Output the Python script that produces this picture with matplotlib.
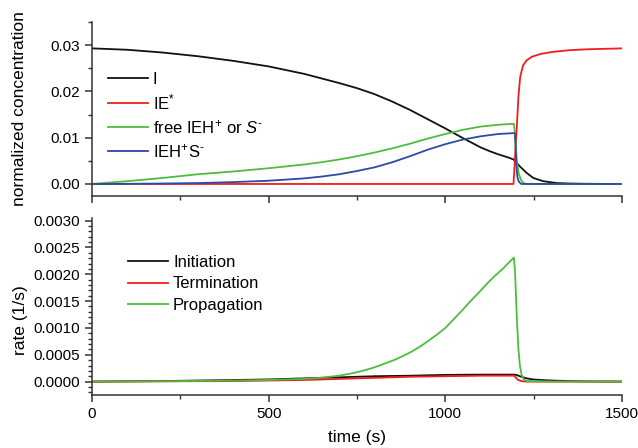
import matplotlib
matplotlib.use("Agg")
import matplotlib.pyplot as plt
from matplotlib.ticker import MultipleLocator

plt.rcParams["font.family"] = ["Liberation Sans", "DejaVu Sans"]
plt.rcParams["mathtext.fontset"] = "custom"
plt.rcParams["mathtext.rm"] = "Liberation Sans"
plt.rcParams["mathtext.it"] = "Liberation Sans:italic"

# ---- top panel: normalized concentrations ----
t_i = [0, 100, 200, 300, 400, 500, 600, 700, 750, 800, 850, 900, 950, 1000,
       1050, 1075, 1100, 1125, 1150, 1175, 1193, 1211, 1230, 1249, 1277, 1315,
       1350, 1400, 1450, 1500]
c_i = [0.0293, 0.0290, 0.0284, 0.0276, 0.0266, 0.0254, 0.0238, 0.0218,
       0.0207, 0.0194, 0.0178, 0.0160, 0.0140, 0.0120, 0.0099, 0.0089,
       0.0079, 0.0071, 0.0064, 0.0058, 0.0053, 0.0038, 0.0024, 0.0013,
       0.0006, 0.0002, 0.0001, 0.00004, 0.00001, 0.0]

t_ie = [0, 1193, 1196, 1199, 1202, 1207, 1212, 1220, 1230, 1245, 1270, 1300,
        1350, 1400, 1450, 1500]
c_ie = [0.0, 0.0, 0.004, 0.008, 0.012, 0.019, 0.0232, 0.0256, 0.0267, 0.0275,
        0.0281, 0.0285, 0.0289, 0.0291, 0.0292, 0.0293]

t_free = [0, 100, 200, 250, 300, 400, 500, 600, 650, 700, 750, 800, 850, 900,
          950, 1000, 1050, 1100, 1150, 1194, 1197, 1200, 1203, 1208, 1214,
          1220, 1228, 1300, 1500]
c_free = [0.0, 0.0006, 0.0013, 0.0017, 0.0021, 0.0027, 0.0034, 0.0042,
          0.0047, 0.0053, 0.0060, 0.0068, 0.0077, 0.0087, 0.0098, 0.0108,
          0.0117, 0.0124, 0.0128, 0.0130, 0.0110, 0.0075, 0.0045, 0.0022,
          0.0009, 0.0003, 0.0, 0.0, 0.0]

t_pair = [0, 100, 200, 300, 400, 500, 600, 650, 700, 750, 800, 850, 900, 950,
          1000, 1050, 1100, 1150, 1197, 1199, 1201, 1204, 1208, 1215, 1500]
c_pair = [0.0, 0.00003, 0.0001, 0.0002, 0.0004, 0.0007, 0.0012, 0.0016,
          0.0021, 0.0028, 0.0036, 0.0047, 0.0060, 0.0074, 0.0086, 0.0096,
          0.0103, 0.0108, 0.0110, 0.0080, 0.0040, 0.0015, 0.0005, 0.0, 0.0]

# ---- bottom panel: rates ----
t_init = [0, 200, 400, 500, 600, 700, 800, 900, 1000, 1100, 1195, 1203, 1215,
          1230, 1249, 1270, 1300, 1350, 1400, 1500]
r_init = [0.0, 0.00001, 0.00003, 0.00004, 0.00006, 0.00008, 0.0001, 0.00011,
          0.000125, 0.00013, 0.00013, 0.00012, 0.00009, 0.00006, 0.00004,
          0.00003, 0.00002, 0.00001, 0.000003, 0.0]

t_term = [0, 200, 400, 500, 600, 700, 800, 900, 1000, 1100, 1195, 1199, 1204,
          1210, 1220, 1230, 1500]
r_term = [0.0, 0.000005, 0.00001, 0.00002, 0.00003, 0.00005, 0.00007,
          0.00009, 0.0001, 0.00011, 0.00011, 0.00008, 0.00004, 0.00002,
          0.000005, 0.0, 0.0]

t_prop = [0, 200, 400, 500, 550, 600, 645, 700, 740, 765, 787, 810, 834, 858,
          881, 905, 928, 950, 975, 1000, 1022, 1045, 1070, 1095, 1117, 1140,
          1164, 1180, 1194, 1197, 1200, 1203, 1207, 1211, 1216, 1222, 1230,
          1300, 1500]
r_prop = [0.0, 0.000005, 0.00002, 0.00003, 0.00004, 0.00005, 0.00007,
          0.00011, 0.00016, 0.0002, 0.00024, 0.00029, 0.00035, 0.00041,
          0.00048, 0.00056, 0.00065, 0.00075, 0.00087, 0.001, 0.00115,
          0.00131, 0.00149, 0.00166, 0.00182, 0.00197, 0.00211, 0.00222,
          0.00231, 0.0021, 0.0016, 0.0011, 0.0006, 0.0003, 0.00012, 0.00004,
          0.00001, 0.0, 0.0]

BLACK = "#111111"
RED = "#f21c1c"
GREEN = "#4cbe3c"
BLUE = "#2c4aa6"
AXC = "#333333"

fig = plt.figure(figsize=(6.38, 4.48), dpi=100)
ax1 = fig.add_axes([0.1442, 0.5625, 0.8307, 0.3884])
ax2 = fig.add_axes([0.1442, 0.1183, 0.8307, 0.3951], sharex=ax1)

lw = 1.3
ax1.plot(t_i, c_i, color=BLACK, lw=lw, label="I")
ax1.plot(t_ie, c_ie, color=RED, lw=lw, label=r"IE$^{*}$")
ax1.plot(t_free, c_free, color=GREEN, lw=lw,
         label=r"free IEH$^{+}$ or $\mathit{S}^{\text{-}}$")
ax1.plot(t_pair, c_pair, color=BLUE, lw=lw,
         label=r"IEH$^{+}$S$^{\text{-}}$")

ax2.plot(t_init, r_init, color=BLACK, lw=lw, label="Initiation")
ax2.plot(t_term, r_term, color=RED, lw=lw, label="Termination")
ax2.plot(t_prop, r_prop, color=GREEN, lw=lw, label="Propagation")

ax1.set_xlim(0, 1500)
ax1.set_ylim(-0.0026, 0.035)
ax2.set_ylim(-0.00025, 0.00305)

ax1.yaxis.set_major_locator(MultipleLocator(0.01))
ax1.yaxis.set_minor_locator(MultipleLocator(0.005))
ax1.yaxis.set_major_formatter(plt.FormatStrFormatter("%.2f"))
ax2.yaxis.set_major_locator(MultipleLocator(0.0005))
ax2.yaxis.set_minor_locator(MultipleLocator(0.0001))
ax2.yaxis.set_major_formatter(plt.FormatStrFormatter("%.4f"))
ax2.xaxis.set_major_locator(MultipleLocator(500))
ax2.xaxis.set_minor_locator(MultipleLocator(250))
ax1.tick_params(axis="x", labelbottom=False)

for ax in (ax1, ax2):
    for side in ("top", "right"):
        ax.spines[side].set_visible(False)
    for side in ("left", "bottom"):
        ax.spines[side].set_color(AXC)
        ax.spines[side].set_linewidth(1.1)
    ax.tick_params(which="major", direction="out", length=5, width=1.1,
                   color=AXC, labelsize=11)
    ax.tick_params(which="minor", direction="out", length=3, width=1.0,
                   color=AXC)

ax1.set_ylabel("normalized concentration", fontsize=12.5)
ax1.yaxis.set_label_coords(-0.122, 0.5)
ax2.set_ylabel("rate (1/s)", fontsize=12.5)
ax2.yaxis.set_label_coords(-0.12, 0.424)
ax2.set_xlabel("time (s)", fontsize=12.5)
ax2.xaxis.set_label_coords(0.5, -0.2)

ax1.legend(loc="upper left", bbox_to_anchor=(0.03, 0.715), frameon=False,
           fontsize=12, handlelength=2.4, handletextpad=0.3, borderpad=0,
           borderaxespad=0, labelspacing=0.35)
ax2.legend(loc="upper left", bbox_to_anchor=(0.068, 0.79), frameon=False,
           fontsize=12, handlelength=2.4, handletextpad=0.3, borderpad=0,
           borderaxespad=0, labelspacing=0.37)

fig.savefig("out.png", dpi=100)
